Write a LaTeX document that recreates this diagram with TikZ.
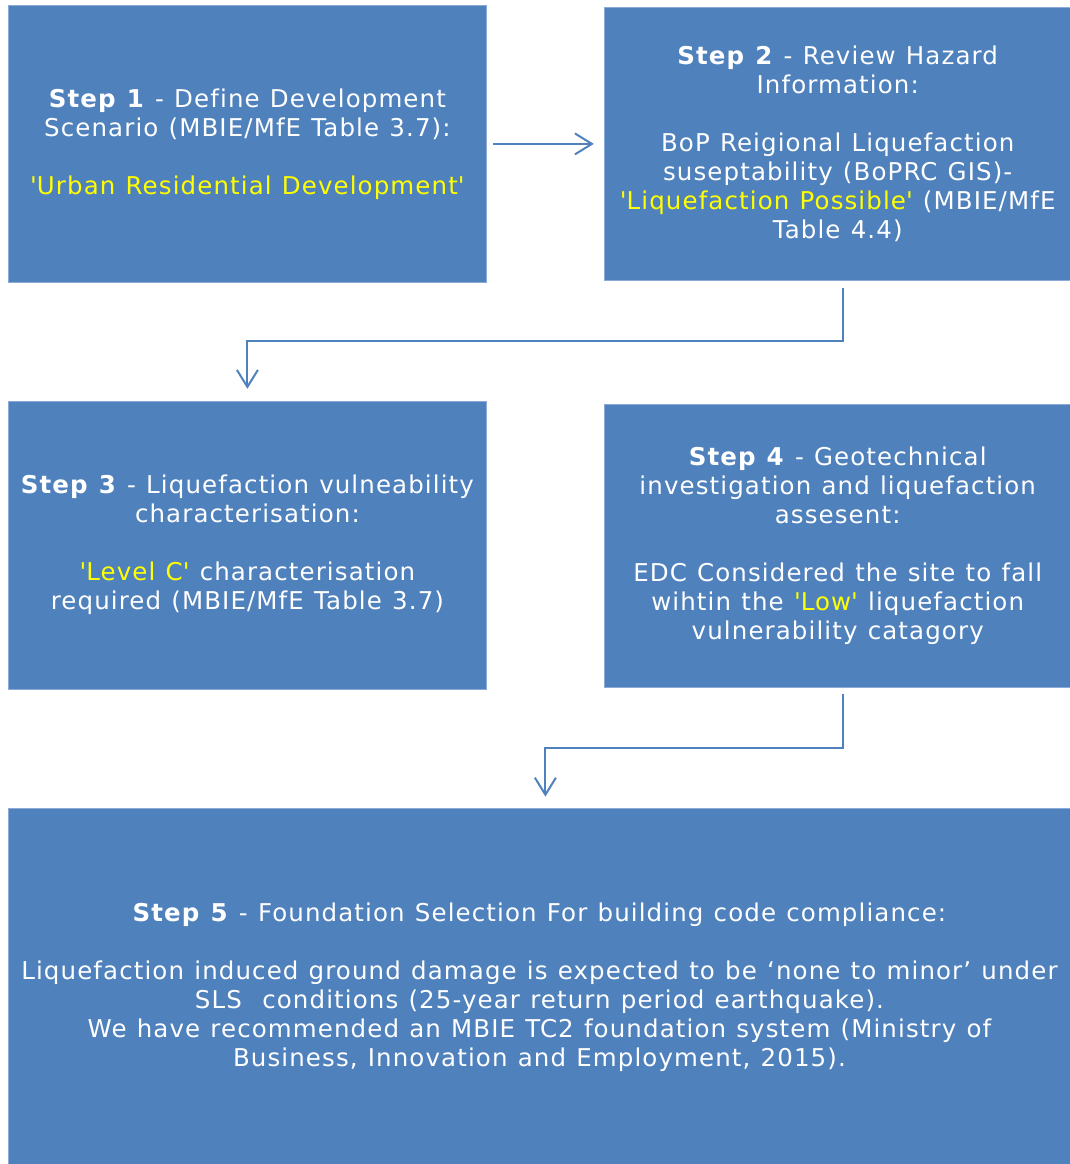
\documentclass[tikz,border=0pt]{standalone}
\usepackage{fontspec}
\usepackage{tikz}
\usetikzlibrary{arrows.meta,positioning,calc}
\usepackage{xcolor}
\newfontfamily\stepfont[LetterSpace=4.5,WordSpace=1.15,Ligatures=NoCommon]{DejaVu Sans}
\definecolor{stepblue}{RGB}{79,129,189}
\definecolor{stepedge}{RGB}{140,170,215}
\definecolor{hlyellow}{RGB}{255,255,0}
\newcommand{\hl}[1]{\textcolor{hlyellow}{\textquotesingle#1\textquotesingle}}
\tikzset{
  stepbox/.style={
    rectangle, draw=stepedge, fill=stepblue, line width=0.8pt,
    text=white, align=center, inner sep=0pt,
    font=\stepfont\fontsize{24.5}{29}\selectfont
  },
  steparrow/.style={draw=stepblue, line width=2pt,
    -{Straight Barb[length=17pt,width=21pt,line width=2pt]}}
}

\begin{document}
\begin{tikzpicture}[x=1pt, y=1pt]
        \useasboundingbox (0,0) rectangle (1070,-1164);
        \node[stepbox, minimum width=478pt, minimum height=277pt,
              anchor=north west]                                  (s1) at (8,-5)
             {\textbf{Step 1} - Define Development\\
              Scenario (MBIE/MfE Table 3.7):\\[29pt]
              \hl{Urban Residential Development}};
        \node[stepbox, minimum width=467pt, minimum height=273pt,
              right=117pt of s1.north east, anchor=north west,
              yshift=-2pt]                                        (s2)
             {\textbf{Step 2} - Review Hazard\\
              Information:\\[29pt]
              BoP Reigional Liquefaction\\
              suseptability (BoPRC GIS)-\\
              \hl{Liquefaction Possible} (MBIE/MfE\\
              Table 4.4)};
        \node[stepbox, minimum width=478pt, minimum height=288pt,
              below=118pt of s1.south west, anchor=north west]    (s3)
             {\textbf{Step 3} - Liquefaction vulneability\\
              characterisation:\\[29pt]
              \hl{Level C} characterisation\\
              required (MBIE/MfE Table 3.7)};
        \node[stepbox, minimum width=467pt, minimum height=283pt,
              below=123pt of s2.south west, anchor=north west]    (s4)
             {\textbf{Step 4} - Geotechnical\\
              investigation and liquefaction\\
              assesent:\\[29pt]
              EDC Considered the site to fall\\
              wihtin the \hl{Low} liquefaction\\
              vulnerability catagory};
        \node[stepbox, minimum width=1062pt, minimum height=358pt,
              below=118pt of s3.south west, anchor=north west]    (s5)
             {\textbf{Step 5} - Foundation Selection For building code compliance:\\[29pt]
              Liquefaction induced ground damage is expected to be ‘none to minor’ under\\
              SLS\ \ conditions (25-year return period earthquake).\\
              We have recommended an MBIE TC2 foundation system (Ministry of\\
              Business, Innovation and Employment, 2015).};
        \draw[steparrow, shorten <=6pt, shorten >=10pt] (s1.east) -- (s2.west);
        \draw[steparrow, shorten <=7pt, shorten >=12pt]
             ([xshift=5.5pt]s2.south) -- ++(0,-60) -| (s3.north);
        \draw[steparrow, shorten <=6pt, shorten >=11pt]
             ([xshift=5.5pt]s4.south) -- ++(0,-60) -| ([xshift=6pt]s5.north);
      \end{tikzpicture}
\end{document}
